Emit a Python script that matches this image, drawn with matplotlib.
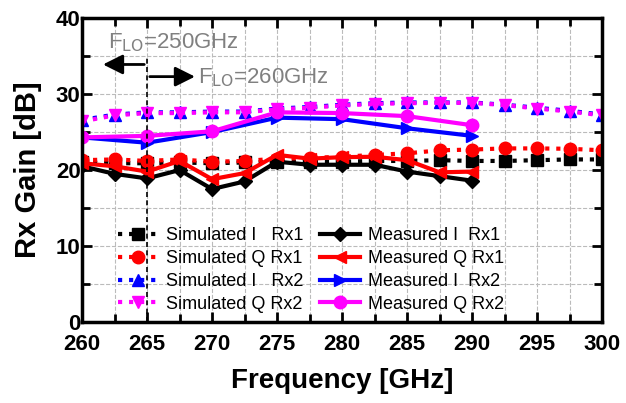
import matplotlib
matplotlib.use("Agg")
import matplotlib.pyplot as plt
from matplotlib.ticker import MultipleLocator

plt.rcParams["font.family"] = ["Liberation Sans", "DejaVu Sans"]

freq_sim = [260, 262.5, 265, 267.5, 270, 272.5, 275, 277.5, 280, 282.5, 285, 287.5, 290, 292.5, 295, 297.5, 300]
freq_rx1 = [260, 262.5, 265, 267.5, 270, 272.5, 275, 277.5, 280, 282.5, 285, 287.5, 290]
freq_rx2 = [260, 265, 270, 275, 280, 285, 290]

sim_i_rx1 = [21.0, 20.9, 20.9, 21.0, 20.9, 21.0, 21.1, 21.1, 21.1, 21.2, 21.2, 21.3, 21.2, 21.2, 21.3, 21.4, 21.4]
sim_q_rx1 = [21.3, 21.4, 21.2, 21.4, 21.1, 21.2, 21.5, 21.6, 21.75, 22.0, 22.2, 22.6, 22.7, 22.85, 22.85, 22.8, 22.6]
sim_i_rx2 = [26.6, 27.3, 27.6, 27.6, 27.7, 27.7, 28.1, 28.3, 28.6, 28.8, 28.9, 28.9, 28.9, 28.6, 28.2, 27.8, 27.3]
sim_q_rx2 = [26.4, 27.2, 27.5, 27.5, 27.6, 27.6, 28.0, 28.2, 28.5, 28.7, 28.8, 28.85, 28.85, 28.55, 28.1, 27.7, 27.2]

meas_i_rx1 = [20.5, 19.5, 18.9, 20.0, 17.5, 18.5, 21.1, 20.7, 20.7, 20.7, 19.8, 19.2, 18.6]
meas_q_rx1 = [20.9, 20.5, 19.8, 21.2, 18.8, 19.6, 22.0, 21.5, 21.7, 21.75, 21.3, 19.7, 19.8]
meas_i_rx2 = [24.3, 23.6, 25.0, 26.9, 26.7, 25.5, 24.5]
meas_q_rx2 = [24.3, 24.5, 25.1, 27.6, 27.5, 27.1, 25.9]

fig = plt.figure(figsize=(6.26, 4.03), dpi=100)
ax = fig.add_axes([0.131, 0.201, 0.831, 0.754])

ms = 8
ax.plot(freq_sim, sim_i_rx1, ":", color="black", marker="s", ms=ms, lw=3, label="Simulated I   Rx1")
ax.plot(freq_sim, sim_q_rx1, ":", color="red", marker="o", ms=ms + 1, lw=3, label="Simulated Q Rx1")
ax.plot(freq_sim, sim_i_rx2, ":", color="blue", marker="^", ms=ms, lw=3, label="Simulated I   Rx2")
ax.plot(freq_sim, sim_q_rx2, ":", color="magenta", marker="v", ms=ms + 1, lw=3, label="Simulated Q Rx2")
ax.plot(freq_rx1, meas_i_rx1, "-", color="black", marker="D", ms=ms - 1, lw=3, label="Measured I  Rx1")
ax.plot(freq_rx1, meas_q_rx1, "-", color="red", marker="<", ms=ms + 1, lw=3, label="Measured Q Rx1")
ax.plot(freq_rx2, meas_i_rx2, "-", color="blue", marker=">", ms=ms + 1, lw=3, label="Measured I  Rx2")
ax.plot(freq_rx2, meas_q_rx2, "-", color="magenta", marker="o", ms=ms + 1, lw=3, label="Measured Q Rx2")

ax.set_xlim(260, 300)
ax.set_ylim(0, 40)
ax.xaxis.set_major_locator(MultipleLocator(5))
ax.xaxis.set_minor_locator(MultipleLocator(2.5))
ax.yaxis.set_major_locator(MultipleLocator(10))
ax.yaxis.set_minor_locator(MultipleLocator(5))
ax.grid(which="both", color="#bbbbbb", linestyle="--", linewidth=0.8)
ax.set_axisbelow(True)
ax.tick_params(which="both", direction="in", top=True, right=True, width=2)
ax.tick_params(which="major", length=7, labelsize=16)
ax.tick_params(which="minor", length=6)
ax.tick_params(axis="x", which="major", pad=9)
ax.tick_params(axis="y", which="major", pad=1)
for lab in ax.get_xticklabels() + ax.get_yticklabels():
    lab.set_fontweight("bold")
for sp in ax.spines.values():
    sp.set_linewidth(2.5)

ax.set_xlabel("Frequency [GHz]", fontsize=20, fontweight="bold", labelpad=9)
ax.set_ylabel("Rx Gain [dB]", fontsize=21, fontweight="bold", labelpad=10)

# LO annotation
ax.plot([265, 265], [0, 34.7], color="black", linestyle=(0, (3, 2)), lw=1.2)
ax.annotate("", xy=(261.4, 33.9), xytext=(265, 33.9),
            arrowprops=dict(arrowstyle="-|>", color="black", lw=2, mutation_scale=30))
ax.annotate("", xy=(268.9, 32.3), xytext=(265, 32.3),
            arrowprops=dict(arrowstyle="-|>", color="black", lw=2, mutation_scale=30))
ax.text(262.0, 36.0, r"F$_{\mathrm{LO}}$=250GHz", color="gray", fontsize=16)
ax.text(268.9, 31.4, r"F$_{\mathrm{LO}}$=260GHz", color="gray", fontsize=16)

ax.legend(ncol=2, loc="upper left", bbox_to_anchor=(0.056, 0.335), frameon=False,
          fontsize=13, handlelength=2.2, handletextpad=0.45, columnspacing=0.9,
          labelspacing=0.32, borderaxespad=0)

fig.savefig("out.png", dpi=100)
